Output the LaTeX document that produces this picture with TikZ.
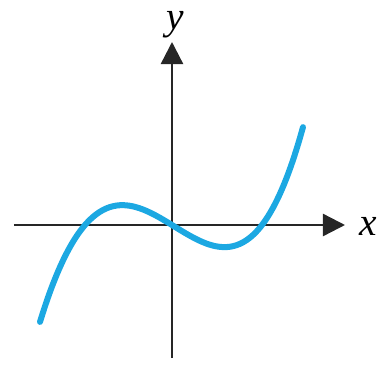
\documentclass[tikz,border=0pt]{standalone}
\usepackage{fontspec}
\setmainfont{Liberation Serif}
\usetikzlibrary{arrows.meta}

\begin{document}
\begin{tikzpicture}[x=0.025cm,y=0.025cm]
\tikzset{
  axisline/.style={-{Triangle[length=5.5mm,width=5.5mm]},line width=0.06cm,draw=black!85},
  curveline/.style={line width=0.15cm,draw=curveblue,line cap=round},
  axislabel/.style={font=\fontsize{28}{30}\selectfont\itshape,inner sep=0pt,anchor=base}
}
\definecolor{curveblue}{RGB}{28,168,226}
\useasboundingbox (-172,-139) rectangle (205,225);
\coordinate (x_from) at (-158,0);
\coordinate (x_to) at (173,0);
\coordinate (y_from) at (0,-133);
\coordinate (y_to) at (0,183);
\draw[axisline] (x_from) -- (x_to);
\draw[axisline] (y_from) -- (y_to);
\node[axislabel] (lbl_x) at (196,-10) {x};
\node[axislabel] (lbl_y) at (3,196) {y};
% the cubic through the origin
\draw[curveline] plot[domain=-132:131,samples=80,smooth]
  (\x,{(\x*0.01)*((\x+87)*0.01)*((\x-90)*0.7865)*(1+0.00049*\x)});
\end{tikzpicture}
\end{document}
